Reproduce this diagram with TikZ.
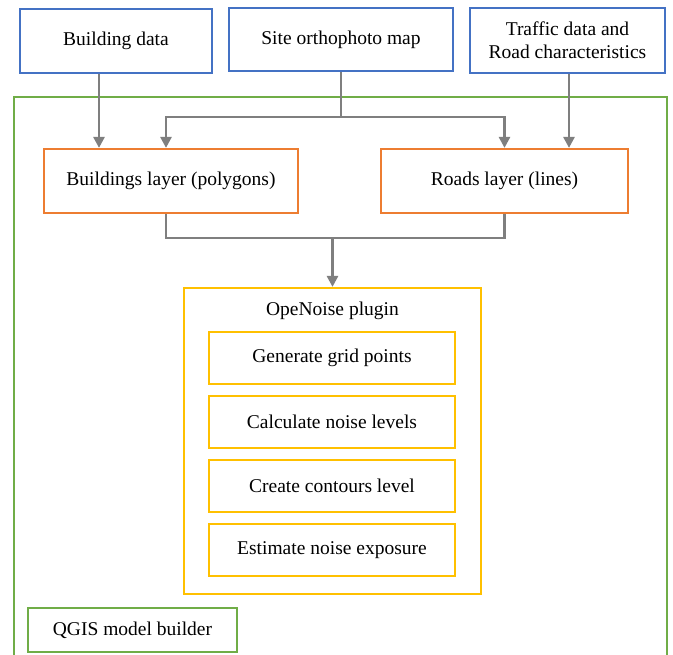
\documentclass[tikz,border=0pt]{standalone}
\usepackage{fontspec}
\setmainfont{Liberation Serif}
\usetikzlibrary{arrows.meta}
\definecolor{cblue}{HTML}{4472C4}
\definecolor{corange}{HTML}{ED7D31}
\definecolor{cgreen}{HTML}{70AD47}
\definecolor{cyellow}{HTML}{FFC000}
\definecolor{cgray}{HTML}{7F7F7F}
\begin{document}
\begin{tikzpicture}[x=1pt,y=1pt,
  box/.style={draw, line width=2.2pt, align=center, inner sep=0pt,
    font=\fontsize{19.5}{23}\selectfont},
  bluebox/.style={box, draw=cblue},
  orangebox/.style={box, draw=corange},
  yellowbox/.style={box, draw=cyellow},
  greenbox/.style={box, draw=cgreen},
  ln/.style={draw=cgray, line width=2.6pt},
  arr/.style={ln, -{Triangle[width=11pt,length=11pt]}}]
\useasboundingbox (0,0) rectangle (673,-655);
\begin{scope}
\clip (0,0) rectangle (673,-655);
\draw[cgreen, line width=2.2pt] (14,-97) rectangle (667,-680);
\end{scope}
\node[bluebox, minimum width=192pt, minimum height=64pt] (bd) at (116,-41) {Building data};
\node[bluebox, minimum width=224pt, minimum height=63pt] (so) at (341,-39.5) {Site orthophoto map};
\node[bluebox, minimum width=195pt, minimum height=65pt] (tr) at (567.5,-40.5) {Traffic data and\\Road characteristics};
\node[orangebox, minimum width=254pt, minimum height=64pt] (bl) at (171,-181) {Buildings layer (polygons)};
\node[orangebox, minimum width=247pt, minimum height=64pt] (rl) at (504.5,-181) {Roads layer (lines)};
\node[yellowbox, minimum width=297pt, minimum height=306pt] (plugin) at (332.5,-441) {};
\node[font=\fontsize{19.5}{23}\selectfont] (pt) at (332.5,-311) {OpeNoise plugin};
\node[yellowbox, minimum width=246pt, minimum height=52pt] (g1) at (332,-358) {Generate grid points};
\node[yellowbox, minimum width=246pt, minimum height=52pt] (g2) at (332,-422) {Calculate noise levels};
\node[yellowbox, minimum width=246pt, minimum height=52pt] (g3) at (332,-486) {Create contours level};
\node[yellowbox, minimum width=246pt, minimum height=52pt] (g4) at (332,-550) {Estimate noise exposure};
\node[greenbox, minimum width=209pt, minimum height=44pt] (qg) at (132.5,-630) {QGIS model builder};
\coordinate (sj) at (341,-117);
\coordinate (j) at (332.5,-238);
\draw[arr] ([xshift=-17pt]bd.south) -- ([xshift=-17pt]bd.south |- bl.north);
\draw[ln] (so.south) -- (sj);
\draw[arr] (sj) -| ([xshift=-5pt]bl.north);
\draw[arr] (sj) -| (rl.north);
\draw[arr] ([xshift=1.5pt]tr.south) -- ([xshift=1.5pt]tr.south |- rl.north);
\draw[ln] ([xshift=-5pt]bl.south) |- (j) -| (rl.south);
\draw[arr] (j) -- (plugin.north);
\end{tikzpicture}
\end{document}
